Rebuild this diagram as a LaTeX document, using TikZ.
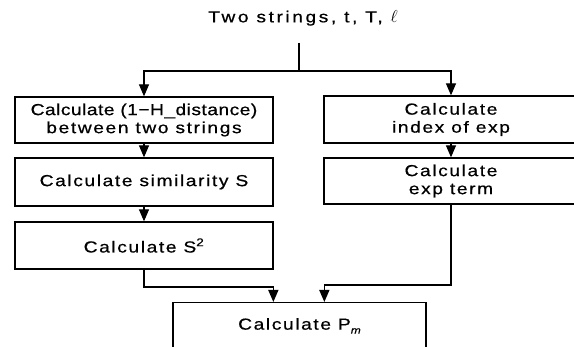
\documentclass[tikz,border=0pt]{standalone}
\usepackage{fontspec}
\setmainfont{Liberation Sans}[FakeStretch=1.2, LetterSpace=10, FakeBold=0.6]
\usetikzlibrary{arrows.meta,calc}
\begin{document}
\begin{tikzpicture}[x=1pt,y=-1pt,
  txt/.style={font=\fontsize{16}{18}\selectfont, align=center, inner sep=0pt},
  box/.style={txt, draw, line width=1.3pt},
  lbox/.style={box, minimum width=258pt},
  rbox/.style={box, minimum width=254pt},
  arr/.style={line width=1.3pt, -{Triangle[width=10pt,length=12pt]}},
  con/.style={line width=1.3pt}]
\useasboundingbox (0,0) rectangle (574,347);
\clip (0,0) rectangle (574,347);
\fill[white] (0,0) rectangle (574,347);

\node[txt] (T) at (303,18) {\addfontfeature{LetterSpace=16}Two strings, t, T, $\ell$};
\coordinate (t0) at (299,43);
\coordinate (j) at (299,71);

\node[lbox, minimum height=46pt] (L1) at (144,120) {{\addfontfeature{LetterSpace=3}Calculate (1−H\_distance)}\\between two strings};
\node[lbox, minimum height=48pt] (L2) at (144,182) {Calculate similarity S};
\node[lbox, minimum height=47pt] (L3) at (144,245.5) {Calculate S\textsuperscript{2}};

\node[rbox, minimum height=47pt] (R1) at (451,119.5) {Calculate\\index of exp};
\node[rbox, minimum height=46pt] (R2) at (451,181) {Calculate\\exp term};

\node[box, anchor=north, minimum width=253pt, inner ysep=15pt, text height=12pt, text depth=40pt] (P) at (299.5,302) {Calculate P\raisebox{-4pt}{\fontsize{10}{10}\selectfont\itshape m}};

\draw[con] (t0) -- (j);
\draw[arr] (j) -| (L1.north);
\draw[arr] (j) -| (R1.north);
\draw[arr] (L1) -- (L2);
\draw[arr] (L2) -- (L3);
\draw[arr] (R1) -- (R2);
\draw[arr] (L3.south) |- ([xshift=101pt,yshift=15pt]P.north west) -- ([xshift=101pt]P.north west);
\draw[arr] (R2.south) |- ([xshift=152pt,yshift=17pt]P.north west) -- ([xshift=152pt]P.north west);
\end{tikzpicture}
\end{document}
